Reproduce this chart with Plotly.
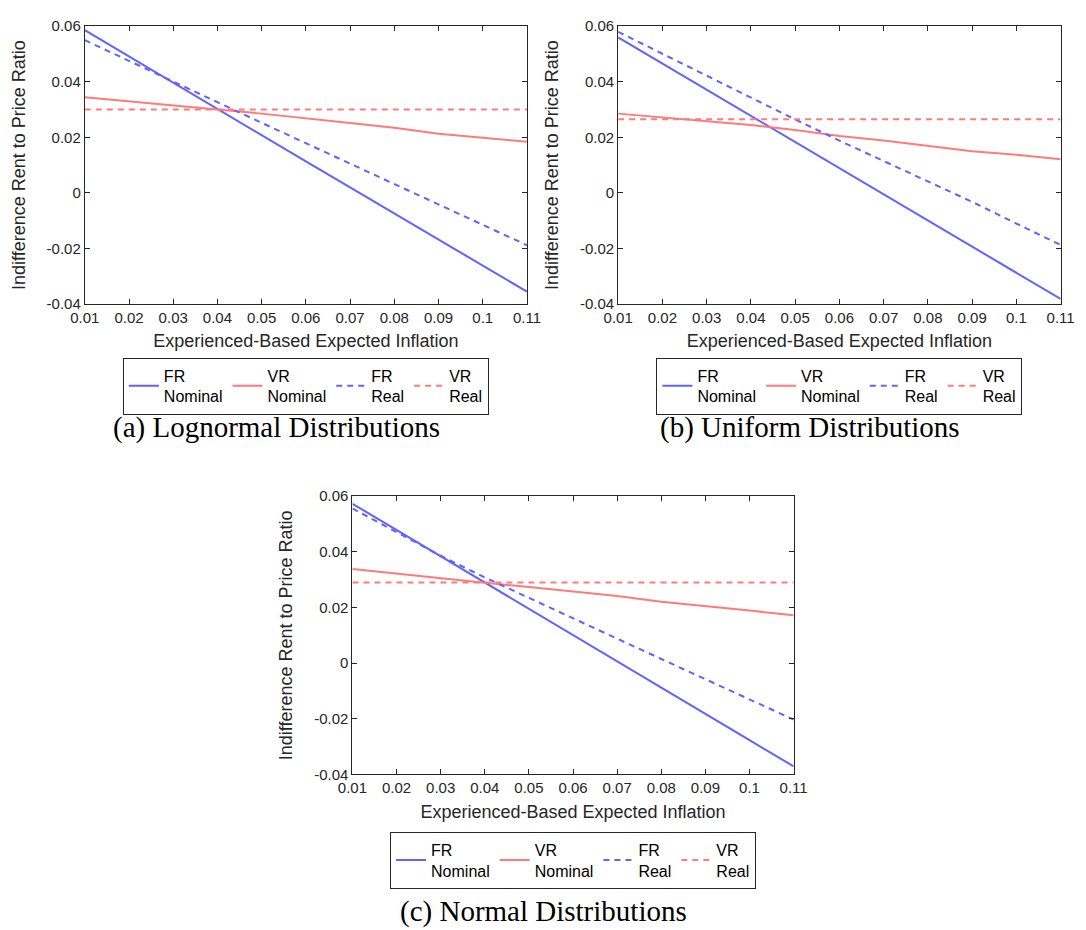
import plotly.graph_objects as go

W, H = 1086, 930

x_vals = [0.01, 0.02, 0.03, 0.04, 0.05, 0.06, 0.07, 0.08, 0.09, 0.10, 0.11]

# (a) Lognormal
a_fr_nominal = [0.0585, 0.0490, 0.0395, 0.0300, 0.0207, 0.0113, 0.0020, -0.0074, -0.0168, -0.0262, -0.0355]
a_vr_nominal = [0.0344, 0.0330, 0.0315, 0.0300, 0.0285, 0.0267, 0.0251, 0.0234, 0.0213, 0.0198, 0.0184]
a_fr_real = [0.0549, 0.0474, 0.0400, 0.0326, 0.0252, 0.0179, 0.0106, 0.0033, -0.0040, -0.0114, -0.0188]
a_vr_real = [0.0300] * 11

# (b) Uniform
b_fr_nominal = [0.0559, 0.0465, 0.0371, 0.0277, 0.0183, 0.0089, -0.0005, -0.0099, -0.0193, -0.0287, -0.0381]
b_vr_nominal = [0.0285, 0.0272, 0.0258, 0.0244, 0.0226, 0.0205, 0.0188, 0.0169, 0.0150, 0.0137, 0.0121]
b_fr_real = [0.0579, 0.0500, 0.0421, 0.0342, 0.0264, 0.0188, 0.0114, 0.0041, -0.0032, -0.0110, -0.0187]
b_vr_real = [0.0265] * 11

# (c) Normal
c_fr_nominal = [0.0573, 0.0479, 0.0384, 0.0290, 0.0195, 0.0101, 0.0007, -0.0088, -0.0182, -0.0277, -0.0371]
c_vr_nominal = [0.0338, 0.0321, 0.0305, 0.0289, 0.0274, 0.0258, 0.0241, 0.0221, 0.0206, 0.0189, 0.0172]
c_fr_real = [0.0556, 0.0470, 0.0386, 0.0308, 0.0234, 0.0161, 0.0088, 0.0015, -0.0058, -0.0131, -0.0203]
c_vr_real = [0.0290] * 11

series_names = ["FR<br>Nominal", "VR<br>Nominal", "FR<br>Real", "VR<br>Real"]
x_tickvals = [0.01, 0.02, 0.03, 0.04, 0.05, 0.06, 0.07, 0.08, 0.09, 0.10, 0.11]
x_ticktext = ["0.01", "0.02", "0.03", "0.04", "0.05", "0.06", "0.07", "0.08", "0.09", "0.1", "0.11"]
y_tickvals = [-0.04, -0.02, 0, 0.02, 0.04, 0.06]
y_ticktext = ["-0.04", "-0.02", "0", "0.02", "0.04", "0.06"]
captions = ["(a) Lognormal Distributions", "(b) Uniform Distributions", "(c) Normal Distributions"]
x_title = "Experienced-Based Expected Inflation"
y_title = "Indifference Rent to Price Ratio"

BLUE = "rgb(98,98,255)"
RED = "rgb(255,122,122)"
styles = [(BLUE, "solid"), (RED, "solid"), (BLUE, "6px,5px"), (RED, "6px,5px")]

panels = [
    dict(data=[a_fr_nominal, a_vr_nominal, a_fr_real, a_vr_real],
         px=(71.7, 526.0), py=(17.3, 300.7), leg_top=355, cap=(269, 426)),
    dict(data=[b_fr_nominal, b_vr_nominal, b_fr_real, b_vr_real],
         px=(619.7, 1074.3), py=(17.3, 300.7), leg_top=355, cap=(817, 426)),
    dict(data=[c_fr_nominal, c_vr_nominal, c_fr_real, c_vr_real],
         px=(346.7, 800.0), py=(496.3, 779.7), leg_top=838, cap=(542.5, 919)),
]

fig = go.Figure()
AX = "#262626"
FONT = "Liberation Sans, Arial, sans-serif"
layout = dict(
    width=W, height=H, margin=dict(l=0, r=0, t=0, b=0),
    paper_bgcolor="white", plot_bgcolor="white",
    font=dict(family=FONT, color=AX),
    annotations=[],
)

for i, p in enumerate(panels):
    n = "" if i == 0 else str(i + 1)
    xa, ya = "x" + n, "y" + n
    leg = "legend" + n
    for j, (ys, (col, dash)) in enumerate(zip(p["data"], styles)):
        fig.add_trace(go.Scatter(
            x=x_vals, y=ys, mode="lines", name=series_names[j],
            line=dict(color=col, width=2, dash=dash),
            xaxis=xa, yaxis=ya, legend=leg, showlegend=True,
            hoverinfo="x+y",
        ))
    x0, x1 = p["px"]
    y0, y1 = p["py"]
    common = dict(showline=True, linecolor=AX, linewidth=1, mirror="ticks",
                  ticks="inside", ticklen=5, tickcolor=AX, tickwidth=1,
                  showgrid=False, zeroline=False,
                  tickfont=dict(size=15, color=AX, family=FONT))
    layout["xaxis" + n] = dict(
        domain=[x0 / W, x1 / W], anchor=ya, range=[0.01, 0.11],
        tickvals=x_tickvals, ticktext=x_ticktext, ticklabelstandoff=0,
        title=dict(text=x_title, font=dict(size=18, color=AX), standoff=9),
        **common)
    layout["yaxis" + n] = dict(
        domain=[1 - y1 / H, 1 - y0 / H], anchor=xa, range=[-0.04, 0.06],
        tickvals=y_tickvals, ticktext=y_ticktext, ticklabelstandoff=0,
        title=dict(text=y_title, font=dict(size=18, color=AX), standoff=16),
        **common)
    layout[leg] = dict(
        orientation="h", x=((x0 + x1) / 2) / W, xanchor="center",
        y=1 - p["leg_top"] / H, yanchor="top",
        bgcolor="white", bordercolor=AX, borderwidth=1,
        font=dict(size=16, color="black", family=FONT),
        valign="middle", tracegroupgap=0, itemclick=False,
    )
    cx, cy = p["cap"]
    layout["annotations"].append(dict(
        text=captions[i], x=cx / W, y=1 - cy / H, xref="paper", yref="paper",
        xanchor="center", yanchor="middle", showarrow=False,
        font=dict(size=29, family="Liberation Serif, Times New Roman, serif", color="black"),
    ))

fig.update_layout(**layout)
fig.write_html("out.html")
